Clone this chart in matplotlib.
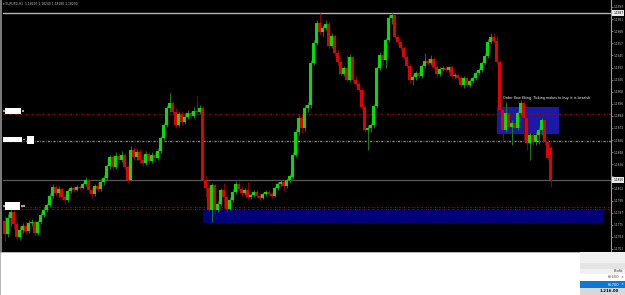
import matplotlib
matplotlib.use("Agg")
import matplotlib.pyplot as plt
from matplotlib.patches import Rectangle

# EURUSD H1 candles (open, high, low, close)
opens = [1.1779, 1.1766, 1.1782, 1.1788, 1.1776, 1.1763, 1.1770, 1.1774, 1.1769, 1.1777,
         1.1778, 1.1767, 1.1778, 1.1785, 1.1790, 1.1795, 1.1804, 1.1813, 1.1807, 1.1811,
         1.1803, 1.1800, 1.1809, 1.1812, 1.1810, 1.1813, 1.1812, 1.1816, 1.1820, 1.1810,
         1.1806, 1.1814, 1.1811, 1.1818, 1.1822, 1.1834, 1.1843, 1.1833, 1.1844, 1.1840,
         1.1845, 1.1833, 1.1820, 1.1850, 1.1843, 1.1848, 1.1840, 1.1837, 1.1846, 1.1839,
         1.1845, 1.1842, 1.1849, 1.1862, 1.1875, 1.1892, 1.1897, 1.1888, 1.1875, 1.1886,
         1.1878, 1.1883, 1.1887, 1.1884, 1.1889, 1.1888, 1.1892, 1.1820, 1.1812, 1.1790,
         1.1815, 1.1790, 1.1796, 1.1810, 1.1803, 1.1791, 1.1800, 1.1808, 1.1816, 1.1811,
         1.1807, 1.1810, 1.1803, 1.1805, 1.1808, 1.1804, 1.1802, 1.1806, 1.1808, 1.1806,
         1.1804, 1.1812, 1.1816, 1.1818, 1.1814, 1.1820, 1.1823, 1.1845, 1.1868, 1.1882,
         1.1872, 1.1892, 1.1895, 1.1937, 1.1957, 1.1977, 1.1968, 1.1972, 1.1976, 1.1954,
         1.1964, 1.1947, 1.1938, 1.1926, 1.1932, 1.1920, 1.1943, 1.1920, 1.1916, 1.1910,
         1.1893, 1.1870, 1.1872, 1.1875, 1.1894, 1.1932, 1.1945, 1.1940, 1.1960, 1.1982,
         1.1985, 1.1963, 1.1958, 1.1952, 1.1943, 1.1934, 1.1920, 1.1923, 1.1927, 1.1924,
         1.1934, 1.1939, 1.1937, 1.1941, 1.1933, 1.1926, 1.1931, 1.1932, 1.1930, 1.1933,
         1.1924, 1.1925, 1.1922, 1.1915, 1.1922, 1.1915, 1.1919, 1.1922, 1.1927, 1.1930,
         1.1937, 1.1944, 1.1958, 1.1963, 1.1959, 1.1938, 1.1890, 1.1870, 1.1887, 1.1873,
         1.1877, 1.1872, 1.1887, 1.1897, 1.1882, 1.1857, 1.1865, 1.1858, 1.1865, 1.1870,
         1.1880, 1.1858, 1.1852]
highs = [1.1784, 1.1786, 1.1792, 1.1790, 1.1779, 1.1774, 1.1777, 1.1778, 1.1780, 1.1781,
         1.1780, 1.1780, 1.1788, 1.1793, 1.1797, 1.1807, 1.1816, 1.1815, 1.1814, 1.1813,
         1.1805, 1.1811, 1.1814, 1.1814, 1.1815, 1.1815, 1.1818, 1.1823, 1.1821, 1.1813,
         1.1816, 1.1818, 1.1821, 1.1825, 1.1836, 1.1845, 1.1845, 1.1848, 1.1847, 1.1849,
         1.1847, 1.1835, 1.1854, 1.1853, 1.1851, 1.1851, 1.1845, 1.1849, 1.1848, 1.1848,
         1.1848, 1.1852, 1.1864, 1.1877, 1.1895, 1.1907, 1.1899, 1.1892, 1.1888, 1.1889,
         1.1887, 1.1890, 1.1889, 1.1893, 1.1904, 1.1895, 1.1894, 1.1824, 1.1815, 1.1817,
         1.1816, 1.1799, 1.1812, 1.1817, 1.1805, 1.1803, 1.1811, 1.1819, 1.1819, 1.1814,
         1.1812, 1.1818, 1.1807, 1.1810, 1.1810, 1.1807, 1.1808, 1.1810, 1.1810, 1.1808,
         1.1814, 1.1818, 1.1820, 1.1820, 1.1822, 1.1826, 1.1848, 1.1871, 1.1885, 1.1886,
         1.1895, 1.1898, 1.1940, 1.1960, 1.1980, 1.1987, 1.1975, 1.1980, 1.1978, 1.1967,
         1.1966, 1.1950, 1.1940, 1.1934, 1.1945, 1.1946, 1.1945, 1.1924, 1.1918, 1.1912,
         1.1895, 1.1875, 1.1877, 1.1896, 1.1934, 1.1948, 1.1950, 1.1962, 1.1985, 1.1987,
         1.1986, 1.1965, 1.1960, 1.1954, 1.1945, 1.1936, 1.1926, 1.1929, 1.1929, 1.1936,
         1.1947, 1.1942, 1.1945, 1.1943, 1.1935, 1.1933, 1.1934, 1.1934, 1.1934, 1.1934,
         1.1927, 1.1926, 1.1924, 1.1924, 1.1923, 1.1921, 1.1924, 1.1929, 1.1932, 1.1939,
         1.1947, 1.1961, 1.1967, 1.1967, 1.1964, 1.1940, 1.1894, 1.1898, 1.1889, 1.1880,
         1.1879, 1.1889, 1.1900, 1.1899, 1.1885, 1.1868, 1.1872, 1.1868, 1.1873, 1.1882,
         1.1882, 1.1860, 1.1854]
lows = [1.1759, 1.1763, 1.1774, 1.1771, 1.1760, 1.1760, 1.1767, 1.1766, 1.1767, 1.1774,
        1.1764, 1.1765, 1.1776, 1.1783, 1.1788, 1.1793, 1.1802, 1.1804, 1.1803, 1.1800,
        1.1796, 1.1798, 1.1807, 1.1808, 1.1809, 1.1810, 1.1811, 1.1814, 1.1807, 1.1802,
        1.1804, 1.1808, 1.1809, 1.1815, 1.1820, 1.1831, 1.1830, 1.1831, 1.1837, 1.1838,
        1.1830, 1.1817, 1.1819, 1.1840, 1.1840, 1.1837, 1.1834, 1.1835, 1.1836, 1.1837,
        1.1838, 1.1840, 1.1847, 1.1860, 1.1873, 1.1888, 1.1885, 1.1872, 1.1873, 1.1875,
        1.1876, 1.1881, 1.1882, 1.1882, 1.1885, 1.1886, 1.1818, 1.1803, 1.1788, 1.1778,
        1.1786, 1.1788, 1.1794, 1.1792, 1.1788, 1.1790, 1.1798, 1.1806, 1.1809, 1.1804,
        1.1805, 1.1801, 1.1801, 1.1803, 1.1802, 1.1800, 1.1801, 1.1804, 1.1804, 1.1802,
        1.1803, 1.1810, 1.1814, 1.1809, 1.1812, 1.1817, 1.1821, 1.1843, 1.1865, 1.1867,
        1.1869, 1.1888, 1.1892, 1.1935, 1.1955, 1.1965, 1.1964, 1.1970, 1.1952, 1.1952,
        1.1944, 1.1935, 1.1924, 1.1924, 1.1918, 1.1918, 1.1918, 1.1914, 1.1908, 1.1890,
        1.1868, 1.1850, 1.1868, 1.1872, 1.1892, 1.1930, 1.1935, 1.1932, 1.1958, 1.1976,
        1.1961, 1.1955, 1.1949, 1.1941, 1.1932, 1.1917, 1.1915, 1.1920, 1.1922, 1.1922,
        1.1932, 1.1935, 1.1935, 1.1931, 1.1923, 1.1924, 1.1929, 1.1928, 1.1928, 1.1922,
        1.1922, 1.1920, 1.1913, 1.1912, 1.1913, 1.1913, 1.1917, 1.1920, 1.1925, 1.1928,
        1.1935, 1.1942, 1.1956, 1.1957, 1.1936, 1.1888, 1.1860, 1.1868, 1.1870, 1.1855,
        1.1869, 1.1870, 1.1885, 1.1860, 1.1850, 1.1840, 1.1855, 1.1855, 1.1856, 1.1865,
        1.1855, 1.1840, 1.1813]
closes = [1.1766, 1.1782, 1.1788, 1.1776, 1.1763, 1.1770, 1.1774, 1.1769, 1.1777, 1.1778,
          1.1767, 1.1778, 1.1785, 1.1790, 1.1795, 1.1804, 1.1813, 1.1807, 1.1811, 1.1803,
          1.1800, 1.1809, 1.1812, 1.1810, 1.1813, 1.1812, 1.1816, 1.1820, 1.1810, 1.1806,
          1.1814, 1.1811, 1.1818, 1.1822, 1.1834, 1.1843, 1.1833, 1.1844, 1.1840, 1.1845,
          1.1833, 1.1820, 1.1850, 1.1843, 1.1848, 1.1840, 1.1837, 1.1846, 1.1839, 1.1845,
          1.1842, 1.1849, 1.1862, 1.1875, 1.1892, 1.1897, 1.1888, 1.1875, 1.1886, 1.1878,
          1.1883, 1.1887, 1.1884, 1.1889, 1.1888, 1.1892, 1.1820, 1.1812, 1.1790, 1.1815,
          1.1790, 1.1796, 1.1810, 1.1803, 1.1791, 1.1800, 1.1808, 1.1816, 1.1811, 1.1807,
          1.1810, 1.1803, 1.1805, 1.1808, 1.1804, 1.1802, 1.1806, 1.1808, 1.1806, 1.1804,
          1.1812, 1.1816, 1.1818, 1.1814, 1.1820, 1.1824, 1.1845, 1.1868, 1.1882, 1.1872,
          1.1892, 1.1895, 1.1937, 1.1957, 1.1977, 1.1968, 1.1972, 1.1976, 1.1954, 1.1964,
          1.1947, 1.1938, 1.1926, 1.1932, 1.1920, 1.1943, 1.1920, 1.1916, 1.1910, 1.1893,
          1.1870, 1.1872, 1.1875, 1.1894, 1.1932, 1.1945, 1.1940, 1.1960, 1.1982, 1.1985,
          1.1963, 1.1958, 1.1952, 1.1943, 1.1934, 1.1920, 1.1923, 1.1927, 1.1924, 1.1934,
          1.1939, 1.1937, 1.1941, 1.1933, 1.1926, 1.1931, 1.1932, 1.1930, 1.1933, 1.1924,
          1.1925, 1.1922, 1.1915, 1.1922, 1.1915, 1.1919, 1.1922, 1.1927, 1.1930, 1.1937,
          1.1944, 1.1958, 1.1963, 1.1959, 1.1938, 1.1890, 1.1870, 1.1887, 1.1873, 1.1877,
          1.1872, 1.1887, 1.1897, 1.1882, 1.1857, 1.1865, 1.1858, 1.1865, 1.1870, 1.1880,
          1.1858, 1.1842, 1.1820]

# horizontal levels drawn on the chart
top_line = 1.1987
bid_line = 1.1820
red_level = 1.1886
grey_level = 1.1859
red_double = [1.1793, 1.17915]

# zones: (first bar, last bar, low, high)
demand_zone = (66.2, 199.5, 1.1777, 1.1790)
supply_zone = (164.2, 184.8, 1.1866, 1.1893)

note_text = "Order flow Eking. Ticking makes to buy. it is bearish"
title_text = "EURUSD,H1  1.18210 1.18240 1.18180 1.18200"

W, H = 625, 295
fig = plt.figure(figsize=(W / 100, H / 100), dpi=100, facecolor="black")

# chart area in figure fractions
ax = fig.add_axes([3 / W, (H - 252) / H, 608 / W, 252 / H], facecolor="black")
ax.set_xlim(-0.5, -0.5 + 608 / 3)
ax.set_ylim(1.2000 - 252 * 0.0001, 1.2000)

for z, col in ((demand_zone, "#00007a"), (supply_zone, "#1a1aa6")):
    ax.add_patch(Rectangle((z[0], z[2]), z[1] - z[0], z[3] - z[2],
                           facecolor=col, edgecolor="none", zorder=1))

dashdot = (0, (1.5, 1.0, 0.5, 1.0))
ax.axhline(top_line, color="#b4b4b4", lw=1.0, zorder=2)
ax.axhline(bid_line, color="#5a5a5a", lw=0.9, zorder=2)
ax.axhline(red_level, color="#7a1010", lw=1.0, ls=dashdot, zorder=2)
ax.axhline(grey_level, color="#8a8a8a", lw=1.0, ls=dashdot, zorder=2)
for lvl in red_double:
    ax.axhline(lvl, color="#7a1010", lw=0.8, ls=dashdot, zorder=2)

idx = list(range(len(closes)))
up = [c >= o for o, c in zip(opens, closes)]
wick_col = ["#1f7a1f" if u else "#8c0000" for u in up]
body_col = ["#00e000" if u else "#e00000" for u in up]
ax.vlines(idx, lows, highs, colors=wick_col, lw=0.7, zorder=3)
bottoms = [min(o, c) for o, c in zip(opens, closes)]
heights = [max(abs(c - o), 0.00008) for o, c in zip(opens, closes)]
ax.bar(idx, heights, bottom=bottoms, width=0.7, color=body_col, lw=0, zorder=4)

# price scale on the right (labels hidden where a highlighted price sits)
ticks = [1.1993 - 0.00121 * k for k in range(21)]
ax.set_yticks(ticks)
ax.set_yticklabels(["" if min(abs(t - top_line), abs(t - bid_line)) < 0.0005 else f"{t:.4f}"
                    for t in ticks])
ax.yaxis.tick_right()
ax.tick_params(axis="y", colors="#9a9a9a", labelcolor="#c8c8c8", labelsize=2.1,
               length=1.4, width=0.5, pad=0.3)
ax.set_xticks([])
for s in ("top", "left", "bottom"):
    ax.spines[s].set_visible(False)
ax.spines["right"].set_color("#9a9a9a")
ax.spines["right"].set_linewidth(0.8)

for lvl in (top_line, bid_line):
    ax.text(1.0035, lvl, f"{lvl:.4f}", transform=ax.get_yaxis_transform(),
            ha="left", va="center", fontsize=2.1, color="black",
            bbox=dict(boxstyle="square,pad=0.3", fc="#e8e8e8", ec="none"), zorder=6)

ax.text(166, 1.2000 - 98 * 0.0001, note_text, ha="left", va="center",
        fontsize=2.4, color="white", zorder=6)

# overlay for terminal decorations (pixel coordinates)
ov = fig.add_axes([0, 0, 1, 1], facecolor="none")
ov.set_xlim(0, W)
ov.set_ylim(H, 0)
ov.axis("off")
ov.add_patch(Rectangle((0, 0), 2, 252, fc="#7a7a7a", ec="none"))
ov.text(3, 4, "\u25be " + title_text, fontsize=2.2, color="#c8c8c8", ha="left", va="center")

# left side object labels
for (x, y, w, h) in ((5, 108, 16, 6), (3, 137, 19, 5), (27, 136, 7, 8), (5, 202, 15, 8)):
    ov.add_patch(Rectangle((x, y), w, h, fc="white", ec="none", zorder=5))
for (x, y) in ((3, 111), (22, 111), (23, 139.5), (3, 206), (21, 206), (23, 206)):
    ov.add_patch(Rectangle((x, y - 0.7), 1.5, 1.4, fc="#a0a0a0", ec="none", zorder=5))

# bottom terminal panel
ov.add_patch(Rectangle((0, 252), 580, 43, fc="white", ec="#d0d0d0", lw=0.5, zorder=5))
ov.add_patch(Rectangle((580, 252), 45, 43, fc="#f0f0f0", ec="none", zorder=5))
ov.add_patch(Rectangle((580, 263), 45, 6, fc="#e4e4e4", ec="none", zorder=6))
ov.add_patch(Rectangle((580, 274), 45, 7, fc="white", ec="none", zorder=6))
ov.add_patch(Rectangle((580, 281), 45, 7, fc="#0a78d7", ec="none", zorder=6))
ov.add_patch(Rectangle((580, 288), 45, 7, fc="#d8d8d8", ec="none", zorder=6))
ov.text(623, 271.5, "Profit", fontsize=2.6, color="#333333", ha="right", va="center", zorder=7)
ov.text(619, 277.5, "65600", fontsize=2.6, color="#555555", ha="right", va="center", zorder=7)
ov.text(619, 284.5, "65700", fontsize=2.6, color="white", ha="right", va="center", zorder=7)
ov.text(620.5, 277.5, "\u00d7", fontsize=2.6, color="#555555", ha="left", va="center", zorder=7)
ov.text(620.5, 284.5, "\u00d7", fontsize=2.6, color="white", ha="left", va="center", zorder=7)
ov.text(619, 291.5, "1.216.00", fontsize=2.8, color="black", fontweight="bold",
        ha="right", va="center", zorder=7)

fig.savefig("out.png", dpi=100, facecolor="black")
